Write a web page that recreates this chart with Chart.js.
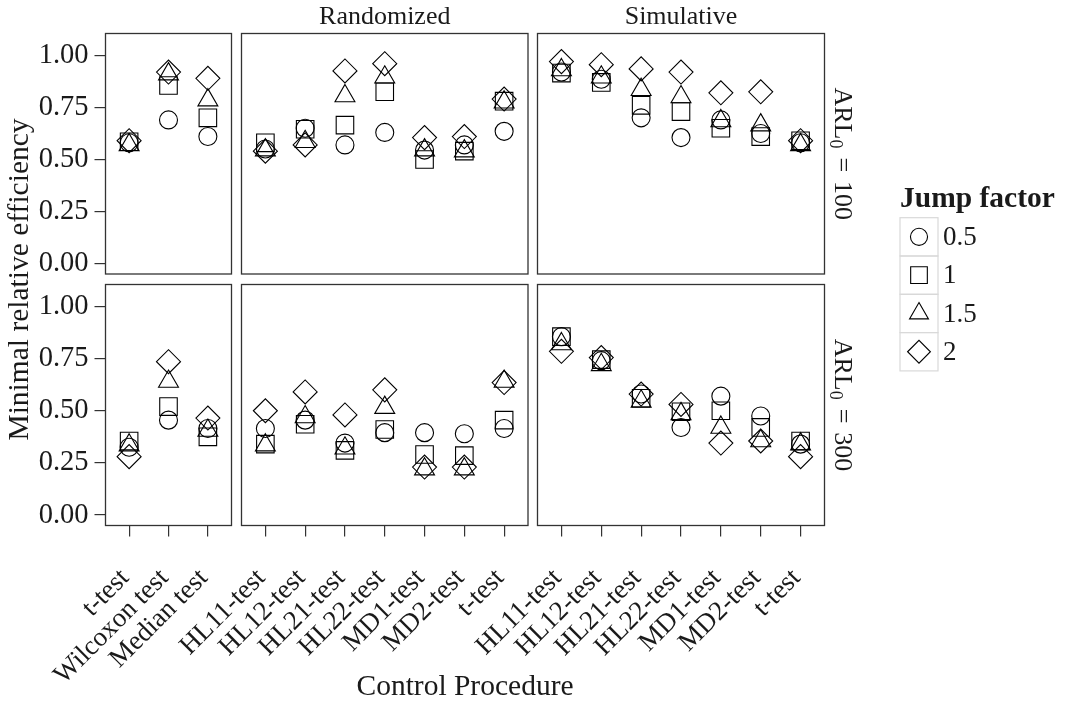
<!DOCTYPE html>
<html>
<head>
<meta charset="utf-8">
<script src="https://cdn.jsdelivr.net/npm/chart.js@4.4.1/dist/chart.umd.min.js"></script>
<style>
  html, body { margin: 0; padding: 0; background: #fff; }
  #wrap { position: relative; width: 1065px; height: 706px; }
  #wrap canvas { position: absolute; left: 0; top: 0; }
</style>
</head>
<body>
<div id="wrap"></div>
<script>
// categories
const baseTests = ['t-test', 'Wilcoxon test', 'Median test'];
const schemeTests = ['HL11-test', 'HL12-test', 'HL21-test', 'HL22-test', 'MD1-test', 'MD2-test', 't-test'];
const schemes = ['', 'Randomized', 'Simulative'];
const arlValues = ['100', '300'];
const jumpFactors = ['0.5', '1', '1.5', '2'];
const yTicks = [0, 0.25, 0.5, 0.75, 1];

// ARL0 = 100 -- one row per jump factor (0.5, 1, 1.5, 2)
const base100 = [
  [0.58, 0.69, 0.61],
  [0.585, 0.855, 0.70],
  [0.57, 0.91, 0.785],
  [0.59, 0.92, 0.89]
];
const rand100 = [
  [0.55, 0.65, 0.57, 0.63, 0.545, 0.57, 0.635],
  [0.58, 0.645, 0.665, 0.825, 0.50, 0.54, 0.78],
  [0.545, 0.585, 0.805, 0.895, 0.545, 0.54, 0.775],
  [0.54, 0.57, 0.925, 0.96, 0.605, 0.61, 0.79]
];
const sim100 = [
  [0.92, 0.885, 0.70, 0.605, 0.69, 0.625, 0.58],
  [0.915, 0.87, 0.76, 0.73, 0.65, 0.61, 0.59],
  [0.93, 0.895, 0.835, 0.80, 0.685, 0.665, 0.57],
  [0.97, 0.955, 0.935, 0.92, 0.82, 0.825, 0.59]
];

// ARL0 = 300
const base300 = [
  [0.325, 0.455, 0.415],
  [0.355, 0.52, 0.375],
  [0.335, 0.64, 0.405],
  [0.28, 0.735, 0.465]
];
const rand300 = [
  [0.415, 0.455, 0.345, 0.395, 0.395, 0.39, 0.415],
  [0.34, 0.435, 0.31, 0.41, 0.29, 0.285, 0.455],
  [0.335, 0.47, 0.32, 0.515, 0.22, 0.22, 0.64],
  [0.50, 0.59, 0.48, 0.60, 0.23, 0.23, 0.635]
];
const sim300 = [
  [0.855, 0.74, 0.58, 0.42, 0.57, 0.475, 0.34],
  [0.855, 0.745, 0.56, 0.495, 0.50, 0.42, 0.355],
  [0.82, 0.72, 0.545, 0.485, 0.42, 0.355, 0.34],
  [0.785, 0.755, 0.58, 0.53, 0.345, 0.355, 0.28]
];

const W = 1065, H = 706;
const serif = "'Liberation Serif', 'DejaVu Serif', serif";
const colBox = [[105.5, 231.5], [241.5, 528], [537.5, 824.5]];
const rowBox = [[33.5, 274], [284.5, 525.5]];
const yAxisW = 100, xAxisH = 175;
const shapes = ['circle', 'rect', 'triangle', 'rectRot'];
const radii = [9, 12.4, 11.5, 12];

Chart.defaults.font.family = serif;
Chart.defaults.color = '#1a1a1a';

// panel frame + strip labels
const framePlugin = {
  id: 'frame',
  afterDatasetsDraw(chart, args, opts) {
    const a = chart.chartArea, ctx = chart.ctx;
    ctx.save();
    ctx.strokeStyle = '#333';
    ctx.lineWidth = 1.3;
    ctx.strokeRect(a.left, a.top, a.right - a.left, a.bottom - a.top);
    ctx.fillStyle = '#1a1a1a';
    ctx.textBaseline = 'middle';
    if (opts.top) {
      ctx.font = '26px ' + serif;
      ctx.textAlign = 'center';
      ctx.fillText(opts.top, (a.left + a.right) / 2, a.top - 16);
    }
    if (opts.arl) {
      // ARL_0 = value, rotated clockwise
      const big = '26px ' + serif, small = '18px ' + serif, gap = 9;
      ctx.font = big;
      const w1 = ctx.measureText('ARL').width;
      const wEq = ctx.measureText('=').width;
      const w3 = ctx.measureText(opts.arl).width;
      ctx.font = small;
      const w2 = ctx.measureText('0').width;
      const total = w1 + w2 + gap + wEq + gap + w3;
      ctx.translate(a.right + 17, (a.top + a.bottom) / 2);
      ctx.rotate(Math.PI / 2);
      ctx.textAlign = 'left';
      let x = -total / 2;
      ctx.font = big;
      ctx.fillText('ARL', x, 0);
      x += w1;
      ctx.font = small;
      ctx.fillText('0', x, 7);
      x += w2 + gap;
      ctx.font = big;
      ctx.fillText('=', x, 0);
      x += wEq + gap;
      ctx.fillText(opts.arl, x, 0);
    }
    ctx.restore();
  }
};
Chart.register(framePlugin);

function drawShape(ctx, style, r, x, y) {
  ctx.fillStyle = 'rgba(0,0,0,0)';
  ctx.strokeStyle = '#000';
  ctx.lineWidth = 1.1;
  Chart.helpers.drawPoint(ctx, { pointStyle: style, radius: r, rotation: 0, borderWidth: 1.1 }, x, y);
}

// shared axis titles and legend
const extrasPlugin = {
  id: 'extras',
  afterDraw(chart) {
    const ctx = chart.ctx;
    ctx.save();
    ctx.fillStyle = '#1a1a1a';
    ctx.textBaseline = 'middle';
    ctx.textAlign = 'center';
    ctx.font = '29.5px ' + serif;
    ctx.fillText('Control Procedure', (colBox[0][0] + colBox[2][1]) / 2, 687);
    ctx.save();
    ctx.translate(20, (rowBox[0][0] + rowBox[1][1]) / 2);
    ctx.rotate(-Math.PI / 2);
    ctx.fillText('Minimal relative efficiency', 0, 0);
    ctx.restore();

    ctx.textAlign = 'left';
    ctx.font = 'bold 29.5px ' + serif;
    ctx.fillText('Jump factor', 900, 199);
    const keyTop = 217.7, keyH = 38.3, keyX = 900, keyW = 38;
    jumpFactors.forEach((jf, i) => {
      const top = keyTop + i * keyH;
      ctx.strokeStyle = '#d9d9d9';
      ctx.lineWidth = 1.2;
      ctx.strokeRect(keyX, top, keyW, keyH);
      drawShape(ctx, shapes[i], radii[i] * 0.95, keyX + keyW / 2, top + keyH / 2);
      ctx.fillStyle = '#1a1a1a';
      ctx.font = '27px ' + serif;
      ctx.fillText(jf, 943, top + keyH / 2 + 1);
    });
    ctx.restore();
  }
};

const panels = [
  { row: 0, col: 0, cats: baseTests, vals: base100 },
  { row: 0, col: 1, cats: schemeTests, vals: rand100 },
  { row: 0, col: 2, cats: schemeTests, vals: sim100 },
  { row: 1, col: 0, cats: baseTests, vals: base300 },
  { row: 1, col: 1, cats: schemeTests, vals: rand300 },
  { row: 1, col: 2, cats: schemeTests, vals: sim300 }
];

const wrap = document.getElementById('wrap');

panels.forEach((p, idx) => {
  const canvas = document.createElement('canvas');
  canvas.width = W;
  canvas.height = H;
  wrap.appendChild(canvas);

  const showX = p.row === 1, showY = p.col === 0;
  const grid = { drawOnChartArea: false, tickLength: 11, color: '#333', lineWidth: 1.2 };

  new Chart(canvas.getContext('2d'), {
    type: 'scatter',
    data: {
      datasets: jumpFactors.map((jf, j) => ({
        label: jf,
        data: p.vals[j].map((v, i) => ({ x: i, y: v })),
        pointStyle: shapes[j],
        pointRadius: radii[j],
        pointBorderWidth: 1.1,
        pointBorderColor: '#000',
        pointBackgroundColor: 'rgba(0,0,0,0)',
        clip: false
      }))
    },
    options: {
      responsive: false,
      animation: false,
      events: [],
      layout: {
        padding: {
          left: showY ? colBox[p.col][0] - yAxisW : colBox[p.col][0],
          right: W - colBox[p.col][1],
          top: rowBox[p.row][0],
          bottom: showX ? H - rowBox[p.row][1] - xAxisH : H - rowBox[p.row][1]
        }
      },
      plugins: {
        legend: { display: false },
        tooltip: { enabled: false },
        frame: {
          top: p.row === 0 ? schemes[p.col] : '',
          arl: p.col === 2 ? arlValues[p.row] : ''
        }
      },
      scales: {
        x: {
          type: 'linear',
          display: showX,
          min: -0.6,
          max: p.cats.length - 0.4,
          afterBuildTicks: s => { s.ticks = p.cats.map((_, i) => ({ value: i })); },
          afterFit: s => { if (showX) s.height = xAxisH; },
          grid: grid,
          border: { display: false },
          ticks: {
            autoSkip: false,
            minRotation: 45,
            maxRotation: 45,
            padding: 26,
            labelOffset: -4,
            font: { size: 27 },
            color: '#1a1a1a',
            callback: v => p.cats[v]
          }
        },
        y: {
          type: 'linear',
          display: showY,
          min: -0.05,
          max: 1.105,
          afterBuildTicks: s => { s.ticks = yTicks.map(v => ({ value: v })); },
          afterFit: s => { if (showY) s.width = yAxisW; },
          grid: grid,
          border: { display: false },
          ticks: {
            padding: 6,
            font: { size: 28.5 },
            color: '#1a1a1a',
            callback: v => v.toFixed(2)
          }
        }
      }
    },
    plugins: idx === 0 ? [extrasPlugin] : []
  });
});
</script>
</body>
</html>
